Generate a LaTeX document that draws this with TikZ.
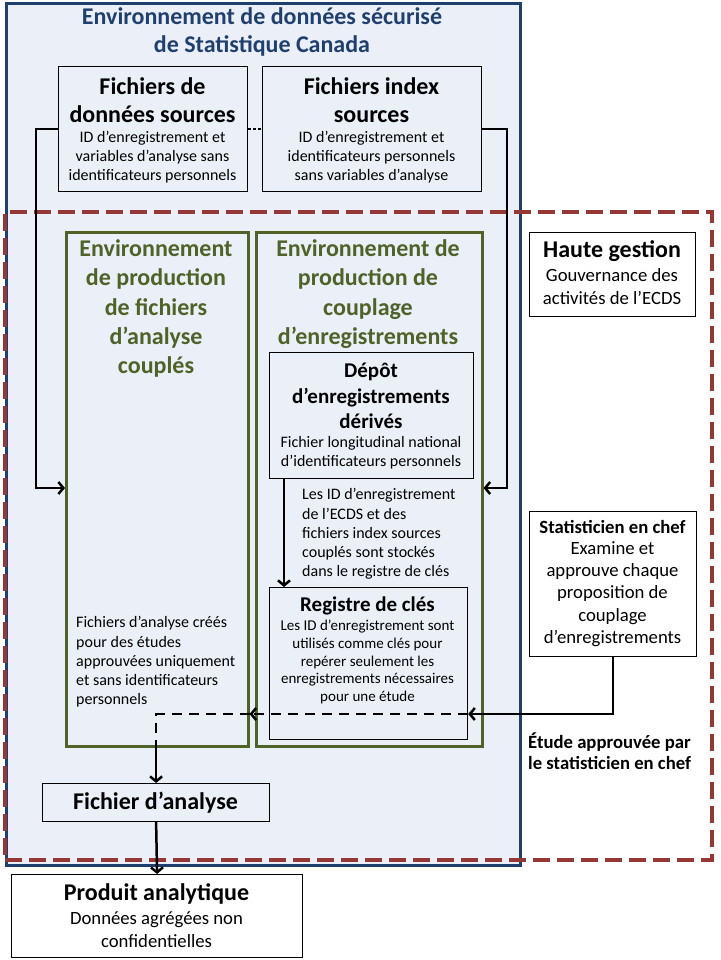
\documentclass[tikz,border=0pt]{standalone}
\usepackage{fontspec}
\setmainfont{Carlito}
\usetikzlibrary{arrows.meta}
\definecolor{bgblue}{RGB}{235,240,248}
\definecolor{dblue}{RGB}{31,63,110}
\definecolor{dgreen}{RGB}{79,98,40}
\definecolor{dred}{RGB}{149,55,53}
\newcommand\fsz[2]{\fontsize{#1}{#2}\selectfont}
\begin{document}
\begin{tikzpicture}[x=1pt,y=-1pt,
  box/.style={draw=black,line width=1.2pt,inner sep=0pt,anchor=north west},
  gbox/.style={draw=dgreen,line width=2.5pt,inner sep=0pt,anchor=north west,fill=bgblue},
  txt/.style={inner sep=0pt,align=center},
  conn/.style={line width=2.5pt,-{Straight Barb[length=5pt,width=12pt,line width=2.5pt]}},
  dconn/.style={conn,dash pattern=on 10pt off 7pt},
  dline/.style={line width=2.5pt,dash pattern=on 10pt off 7pt}]
\useasboundingbox (0,0) rectangle (720,960);
\fill[white] (0,0) rectangle (720,960);
% big secure environment box
\node[draw=dblue,line width=3pt,fill=bgblue,inner sep=0pt,anchor=north west,minimum width=514pt,minimum height=862pt] (sec) at (5,2) {};
% red dashed governance area
\node[draw=dred,line width=4pt,dash pattern=on 17pt off 7pt,inner sep=0pt,anchor=north west,minimum width=707pt,minimum height=648pt] (gov) at (3,210) {};
% title
\node[txt,font=\bfseries\fsz{24}{28},text=dblue] (title) at (262,32) {Environnement de données sécurisé\\de Statistique Canada};
% source boxes
\node[box,fill=bgblue,minimum width=189pt,minimum height=125pt] (fds) at (58,66) {};
\node[box,fill=bgblue,minimum width=219pt,minimum height=125pt] (fis) at (262,66) {};
\node[txt,font=\bfseries\fsz{24}{28}] (fdsH) at (152.5,100) {Fichiers de\\données sources};
\node[txt,font=\fsz{16}{19}] (fdsB) at (152.5,157.5) {ID d’enregistrement et\\variables d’analyse sans\\identificateurs personnels};
\node[txt,font=\bfseries\fsz{24}{28}] (fisH) at (371.5,100) {Fichiers index\\sources};
\node[txt,font=\fsz{16}{19}] (fisB) at (371.5,157.5) {ID d’enregistrement et\\identificateurs personnels\\sans variables d’analyse};
% green environments
\node[gbox,minimum width=182pt,minimum height=514pt] (gp1) at (65,231) {};
\node[gbox,minimum width=226pt,minimum height=514pt] (gp2) at (255,231) {};
\node[txt,font=\bfseries\fsz{24}{29.25},text=dgreen] (gp1T) at (156,308.5) {Environnement\\de production\\de fichiers\\d’analyse\\couplés};
\node[txt,font=\bfseries\fsz{24}{29.25},text=dgreen] (gp2T) at (368,294) {Environnement de\\production de\\couplage\\d’enregistrements};
\node[txt,align=left,anchor=west,font=\fsz{16}{19.25}] (gp1B) at (76,662) {Fichiers d’analyse créés\\pour des études\\approuvées uniquement\\et sans identificateurs\\personnels};
% depot
\node[box,fill=bgblue,minimum width=204pt,minimum height=126pt] (dep) at (269,352) {};
\node[txt,font=\bfseries\fsz{21}{25.5}] (depH) at (371,396) {Dépôt\\d’enregistrements\\dérivés};
\node[txt,font=\fsz{16}{19}] (depB) at (371,453) {Fichier longitudinal national\\d’identificateurs personnels};
\node[txt,align=left,anchor=west,font=\fsz{16}{19.25}] (arrT) at (302,534) {Les ID d’enregistrement\\de l’ECDS et des\\fichiers index sources\\couplés sont stockés\\dans le registre de clés};
% registre
\node[box,fill=bgblue,minimum width=198pt,minimum height=152pt] (reg) at (269,587) {};
\node[txt,font=\bfseries\fsz{21}{24}] (regH) at (367.5,605.5) {Registre de clés};
\node[txt,font=\fsz{15}{17.75}] (regB) at (367.5,662) {Les ID d’enregistrement sont\\utilisés comme clés pour\\repérer seulement les\\enregistrements nécessaires\\pour une étude};
% haute gestion
\node[box,fill=white,minimum width=166pt,minimum height=84pt] (hg) at (529,232) {};
\node[txt,font=\bfseries\fsz{24}{28}] (hgH) at (612,251) {Haute gestion};
\node[txt,font=\fsz{18.7}{23}] (hgB) at (612,287) {Gouvernance des\\activités de l’ECDS};
% statisticien
\node[box,fill=white,minimum width=167pt,minimum height=145pt] (stat) at (529,511) {};
\node[txt,font=\bfseries\fsz{18.7}{22}] (statH) at (612.5,526.5) {Statisticien en chef};
\node[txt,font=\fsz{18.7}{22.25}] (statB) at (612.5,594) {Examine et\\approuve chaque\\proposition de\\couplage\\d’enregistrements};
\node[txt,align=left,anchor=west,font=\bfseries\fsz{18.7}{20.5}] (etude) at (528,751) {Étude approuvée par\\le statisticien en chef};
% fichier d'analyse
\node[box,fill=bgblue,minimum width=227pt,minimum height=38pt] (fa) at (42,783) {};
\node[txt,font=\bfseries\fsz{24}{28}] (faT) at (155.5,803) {Fichier d’analyse};
% produit
\node[box,fill=white,minimum width=291pt,minimum height=83pt] (prod) at (11,874) {};
\node[txt,font=\bfseries\fsz{24}{28}] (prodH) at (156.5,894) {Produit analytique};
\node[txt,font=\fsz{18.7}{23}] (prodB) at (156.5,930) {Données agrégées non\\confidentielles};
% connectors
\coordinate (yarr) at (0,488);
\coordinate (xdr) at (284,0);
\coordinate (yst) at (0,714);
\draw[line width=2pt,dash pattern=on 2.5pt off 2.5pt] (fds.east) -- (fis.west);
\draw[conn] (fds.west) -- ++(-22,0) |- (gp1.west |- yarr);
\draw[conn] (fis.east) -- ++(25,0) |- (gp2.east |- yarr);
\draw[conn] (dep.south -| xdr) -- (reg.north -| xdr);
\draw[conn] (stat.south) |- (reg.east |- yst);
\draw[dconn] (reg.east |- yst) -- (gp1.east |- yst);
\draw[dline] (gp1.east |- yst) -- (fa.north |- yst) -- (fa.north |- gp1.south);
\draw[conn] (fa.north |- gp1.south) -- (fa.north);
\draw[conn] (fa.south) -- (prod.north);
\end{tikzpicture}
\end{document}
